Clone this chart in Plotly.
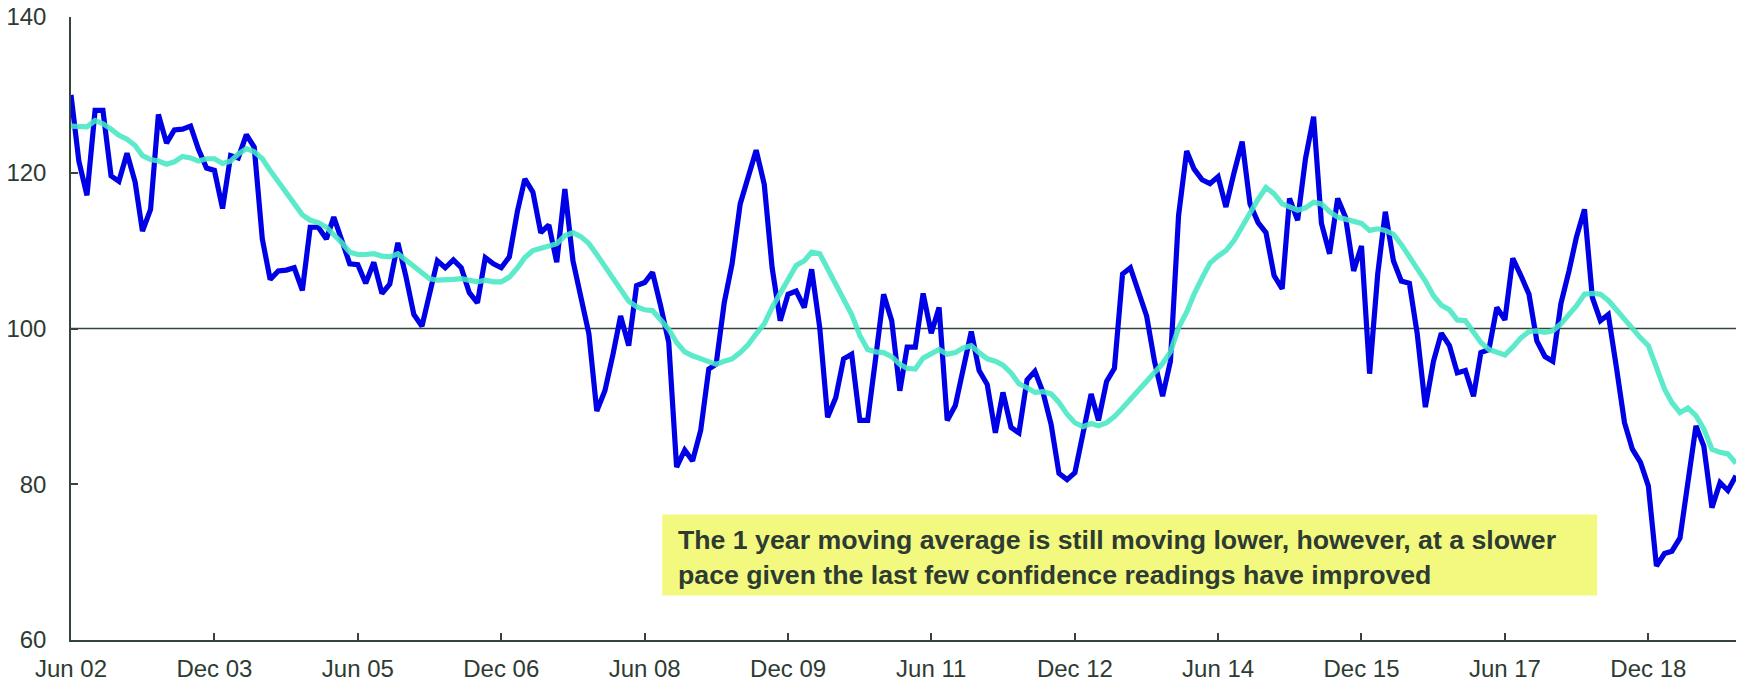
import pandas as pd
import plotly.graph_objects as go

start_month = "2002-06-01"

confidence = [
    130.0, 121.5, 117.1, 128.0, 128.0, 119.6, 118.9, 122.5, 118.8, 112.5,
    115.3, 127.5, 123.8, 125.5, 125.6, 126.0, 123.0, 120.6, 120.3, 115.4,
    122.2, 121.9, 124.9, 123.3, 111.5, 106.3, 107.4, 107.5, 107.8, 104.9,
    113.0, 113.0, 111.5, 114.3, 111.3, 108.3, 108.2, 105.8, 108.5, 104.5,
    105.7, 111.0, 106.8, 101.8, 100.3, 104.5, 108.7, 107.8, 108.8, 107.8,
    104.6, 103.3, 109.1, 108.3, 107.8, 109.2, 115.1, 119.2, 117.5, 112.3,
    113.3, 108.5, 117.9, 108.7, 104.0, 99.3, 89.4, 92.0, 96.7, 101.6,
    97.8, 105.5, 105.9, 107.2, 102.9, 98.2, 82.2, 84.4, 83.0, 86.9,
    94.8, 95.4, 103.3, 108.3, 116.0, 119.4, 122.9, 118.5, 107.8, 101.0,
    104.4, 104.8, 102.7, 107.6, 100.1, 88.6, 91.1, 96.1, 96.7, 88.2,
    88.2, 96.3, 104.4, 101.0, 92.0, 97.6, 97.6, 104.5, 99.4, 102.7,
    88.2, 90.1, 95.0, 99.6, 94.6, 92.8, 86.6, 91.8, 87.3, 86.6,
    93.4, 94.5, 91.8, 87.7, 81.4, 80.6, 81.5, 86.2, 91.6, 88.2,
    93.2, 94.9, 107.0, 107.8, 104.8, 101.6, 95.8, 91.3, 95.8, 114.5,
    122.8, 120.5, 119.1, 118.6, 119.5, 115.6, 120.0, 124.0, 116.0, 113.6,
    112.3, 106.8, 105.1, 116.7, 113.9, 121.8, 127.2, 113.5, 109.6, 116.7,
    114.3, 107.4, 110.6, 94.2, 107.0, 115.0, 108.7, 106.1, 105.8, 99.3,
    89.9, 95.8, 99.4, 97.8, 94.3, 94.6, 91.3, 96.9, 97.3, 102.7,
    101.1, 109.0, 106.8, 104.4, 98.4, 96.4, 95.8, 103.2, 107.4, 111.7,
    115.3, 104.0, 101.0, 101.8, 95.0, 87.9, 84.5, 82.8, 79.8, 69.5,
    71.1, 71.4, 73.1, 80.4, 87.5, 84.9, 77.0, 80.2, 79.2, 81.1,
]

moving_avg_1y = [
    126.0, 126.0, 125.9, 126.7, 126.3, 125.6, 124.8, 124.3, 123.5, 122.2,
    121.7, 121.5, 121.1, 121.4, 122.1, 121.9, 121.5, 121.8, 121.8, 121.2,
    121.5, 122.4, 123.1, 122.7, 121.8, 120.3, 118.8, 117.3, 116.0, 114.6,
    113.9, 113.6, 113.0, 112.1, 111.0, 109.8, 109.5, 109.5, 109.6, 109.3,
    109.2, 109.6, 108.8, 107.9, 107.1, 106.4, 106.2, 106.2, 106.3, 106.4,
    106.2, 106.0, 106.2, 106.0, 106.0, 106.6, 107.8, 109.1, 110.0, 110.3,
    110.6, 110.9, 111.9, 112.3, 111.8, 110.9, 109.5, 107.9, 106.5, 105.1,
    103.5, 102.8, 102.4, 102.3, 101.2, 99.9, 98.2, 97.0, 96.5, 96.1,
    95.8, 95.4, 95.8, 96.1, 96.9, 97.9, 99.3, 100.6, 102.7, 104.6,
    106.5, 108.1, 108.7, 109.8, 109.6, 107.6, 105.7, 103.9, 101.8, 99.1,
    97.3, 97.0, 96.9, 96.4, 95.4, 94.9, 94.8, 96.2, 96.8, 97.3,
    96.7, 96.9, 97.5, 97.8, 96.9, 96.1, 95.8, 95.3, 94.3, 92.9,
    92.4, 91.8, 91.9, 91.6, 90.5, 89.0, 87.9, 87.4, 87.8, 87.5,
    87.9, 88.7, 89.8, 90.9, 92.0, 93.2, 94.3, 95.5, 97.0, 100.1,
    102.1, 104.4, 106.5, 108.4, 109.3, 110.0, 111.3, 113.1, 114.9, 116.6,
    118.1, 117.3, 116.0, 115.6, 115.2, 115.5, 116.2, 116.0, 115.0, 114.3,
    114.0, 113.7, 113.5, 112.6, 112.8, 112.6, 112.1, 110.8, 109.2, 107.9,
    106.1, 104.2, 103.0, 102.4, 101.1, 101.0, 99.6, 98.2, 97.3, 97.0,
    96.6, 97.6, 98.8, 99.6, 99.7, 99.5, 99.7, 100.6, 101.8, 102.9,
    104.4, 104.5, 104.4, 103.6, 102.4, 101.1, 99.9, 98.8, 97.8, 95.1,
    92.2, 90.5, 89.2, 89.8, 88.8, 87.1, 84.5, 84.1, 83.9, 82.7,
]

tick_dates = ["2002-06-01", "2003-12-01", "2005-06-01", "2006-12-01",
              "2008-06-01", "2009-12-01", "2011-06-01", "2012-12-01",
              "2014-06-01", "2015-12-01", "2017-06-01", "2018-12-01"]
tick_labels = ["Jun 02", "Dec 03", "Jun 05", "Dec 06", "Jun 08", "Dec 09",
               "Jun 11", "Dec 12", "Jun 14", "Dec 15", "Jun 17", "Dec 18"]
y_ticks = [60, 80, 100, 120, 140]
reference_level = 100

note_lines = ["The 1 year moving average is still moving lower, however, at a slower",
              "pace given the last few confidence readings have improved"]

months = pd.date_range(start_month, periods=len(confidence), freq="MS")

axis_col = "#34443b"
text_col = "#2d3b33"
font_fam = "Arial, 'Liberation Sans', sans-serif"

fig = go.Figure()
fig.add_trace(go.Scatter(x=months, y=confidence, mode="lines",
                         line=dict(color="#0000E6", width=5.2),
                         showlegend=False, hoverinfo="skip"))
fig.add_trace(go.Scatter(x=months, y=moving_avg_1y, mode="lines",
                         line=dict(color="rgb(70,232,196)", width=5.2),
                         opacity=0.88, showlegend=False, hoverinfo="skip"))

fig.add_shape(type="line", xref="paper", x0=0, x1=1, yref="y",
              y0=reference_level, y1=reference_level,
              line=dict(color=axis_col, width=1.6), layer="below")

fig.add_shape(type="rect", xref="paper", yref="paper",
              x0=0.3551, x1=0.9166, y0=0.0716, y1=0.2016,
              fillcolor="#F2F97E", line=dict(width=0), layer="above")
fig.add_annotation(xref="paper", yref="paper", x=0.3635, y=0.1330,
                   xanchor="left", yanchor="middle", align="left",
                   text="<br>".join("<b>" + s + "</b>" for s in note_lines),
                   showarrow=False,
                   font=dict(family=font_fam, size=26.7, color=text_col))

fig.update_layout(
    width=1740, height=679,
    margin=dict(l=71, r=4, t=17, b=39, pad=0),
    paper_bgcolor="white", plot_bgcolor="white",
    font=dict(family=font_fam, size=24, color=text_col),
    xaxis=dict(range=[months[0], months[-1]], tickvals=tick_dates,
               ticktext=tick_labels, showgrid=False, zeroline=False,
               showline=True, linecolor=axis_col, linewidth=1.5,
               ticks="inside", ticklen=7, tickwidth=1.5, tickcolor=axis_col,
               ticklabelstandoff=6, automargin=False,
               tickfont=dict(size=24, color=text_col)),
    yaxis=dict(range=[60, 140], tickvals=y_ticks, showgrid=False,
               zeroline=False, showline=True, linecolor=axis_col,
               linewidth=1.5, ticks="inside", ticklen=7, tickwidth=1.5,
               tickcolor=axis_col, ticklabelstandoff=18, automargin=False,
               tickfont=dict(size=24, color=text_col)),
)

fig.write_html("out.html",
               config={"displayModeBar": False},
               post_script="document.body.style.margin='0';"
                           "document.body.style.padding='0';"
                           "document.body.style.overflow='hidden';")
